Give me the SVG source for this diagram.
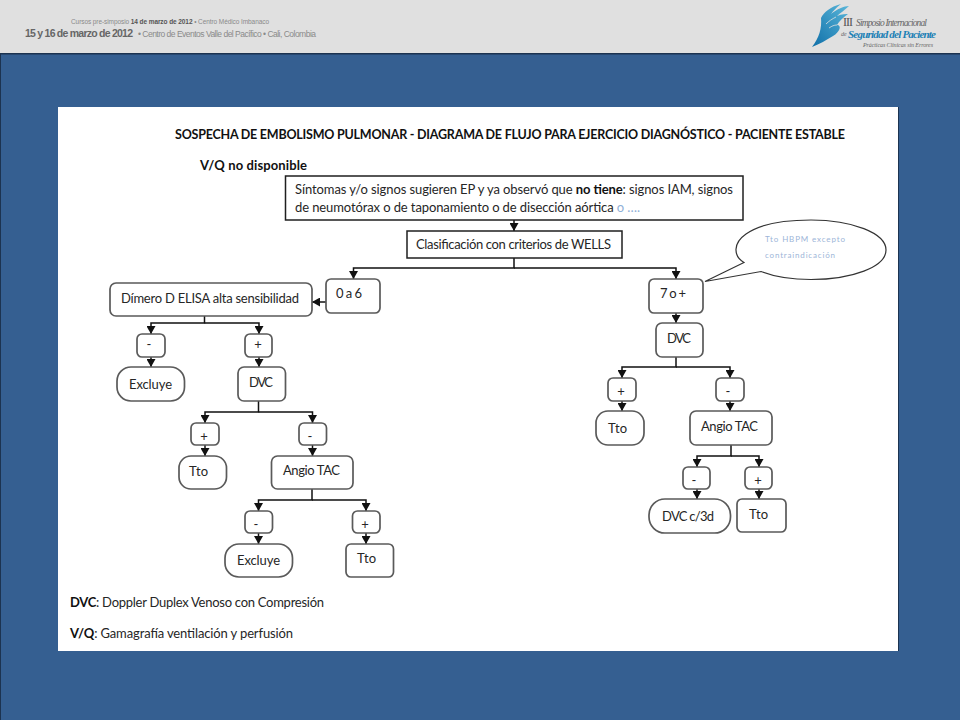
<svg xmlns="http://www.w3.org/2000/svg" width="960" height="720" viewBox="0 0 960 720">
<style>
.n{fill:#fff;stroke:#5a5a5a;stroke-width:1.7}
.s{fill:#fff;stroke:#1f1f1f;stroke-width:1.5}
.t{font-family:Lato,"Liberation Sans",sans-serif;font-size:13px;fill:#262626}
.b{font-weight:700;fill:#111}
.c{text-anchor:middle}
.h{font-family:"Liberation Sans",sans-serif;fill:#8a8a8a}
.l{font-family:"Liberation Serif",serif;font-style:italic;fill:#666}
.k{fill:#9db5d8;font-size:8px}
#connectors path{fill:none;stroke:#111;stroke-width:1.5}
</style>
<defs>
<marker id="a" markerUnits="userSpaceOnUse" markerWidth="9" markerHeight="9" refX="8" refY="4.500" orient="auto"><path d="M0 0L8 4.500L0 9Z" fill="#111"/></marker>
<linearGradient id="g" x1="0" y1="1" x2="1" y2="0"><stop offset="0" stop-color="#0f6fa8"/><stop offset="1" stop-color="#5bb7da"/></linearGradient>
</defs>
<rect width="960" height="720" fill="#355f91"/>
<rect width="960" height="53" fill="#e0e0e0"/>
<rect y="53" width="960" height="1.5" fill="#1c3350"/>
<rect x="0" y="54" width="1" height="666" fill="#1c3350"/>
<g id="header">
<text class="h" x="71" y="24" font-size="6.500" textLength="198">Cursos pre-simposio <tspan font-weight="700" fill="#555">14 de marzo de 2012</tspan> • Centro Médico Imbanaco</text>
<text x="25" y="37" class="h" font-size="10.500" font-weight="700" style="fill:#666" textLength="108">15 y 16 de marzo de 2012</text>
<text x="138" y="37" class="h" font-size="8.500" textLength="178">• Centro de Eventos Valle del Pacífico • Cali, Colombia</text>
</g>
<g id="logo">
<path d="M812 47C819 38 822 28 821 18C824 12 830 7 841 4C836 8 833 11 831 14C837 9 844 6 849 6C845 10 840 13 837 16C842 14 846 14 848 14C843 18 839 21 837 25C842 25 840 32 833 36C826 40 820 44 812 47Z" fill="url(#g)"/>
<path d="M826 24C829 21 832 19 836 17M829 28C832 26 834 25 837 25" fill="none" stroke="#e0e0e0" stroke-width="0.800"/>
<text x="843" y="25.500" font-family="Liberation Serif,serif" font-size="12" fill="#555" textLength="10">III</text>
<text x="856" y="26" class="l" font-size="9.500" textLength="71">Simposio Internacional</text>
<text x="841" y="36" class="l" font-size="6">de</text>
<text x="848" y="38" font-family="Liberation Serif,serif" font-style="italic" font-weight="700" font-size="11" fill="#1a7fb5" textLength="88">Seguridad del Paciente</text>
<text x="863" y="46.500" class="l" font-size="6" textLength="70">Prácticas Clínicas sin Errores</text>
</g>
<rect x="58" y="107" width="841" height="544" fill="#fff"/>
<rect x="898" y="107" width="1" height="544" fill="#1c3350"/>
<g id="titles">
<text class="t b" x="175" y="139" textLength="670" style="font-size:12.500px">SOSPECHA DE EMBOLISMO PULMONAR - DIAGRAMA DE FLUJO PARA EJERCICIO DIAGNÓSTICO - PACIENTE ESTABLE</text>
<text class="t b" x="200" y="170" textLength="107">V/Q  no disponible</text>
</g>
<g id="connectors">
<path d="M514 220V231" marker-end="url(#a)"/>
<path d="M514 258V268H353.500V279" marker-end="url(#a)"/>
<path d="M514 268H676V279" marker-end="url(#a)"/>
<path d="M326 302H312" marker-end="url(#a)"/>
<path d="M676 313V323" marker-end="url(#a)"/>
<path d="M676 357V367H622V378" marker-end="url(#a)"/>
<path d="M676 367H730V378" marker-end="url(#a)"/>
<path d="M622 401V411" marker-end="url(#a)"/>
<path d="M730 401V411" marker-end="url(#a)"/>
<path d="M731 445V456H697V467" marker-end="url(#a)"/>
<path d="M731 456H759V467" marker-end="url(#a)"/>
<path d="M697 489V499" marker-end="url(#a)"/>
<path d="M759 489V499" marker-end="url(#a)"/>
<path d="M204.500 316V323H151V334" marker-end="url(#a)"/>
<path d="M204.500 323H259V334" marker-end="url(#a)"/>
<path d="M151 357V367" marker-end="url(#a)"/>
<path d="M259 357V367" marker-end="url(#a)"/>
<path d="M258.500 401V412H205V423" marker-end="url(#a)"/>
<path d="M258.500 412H312.500V423" marker-end="url(#a)"/>
<path d="M205 445V456" marker-end="url(#a)"/>
<path d="M312.500 445V456" marker-end="url(#a)"/>
<path d="M312 489V500H258.500V511" marker-end="url(#a)"/>
<path d="M312 500H366V511" marker-end="url(#a)"/>
<path d="M258.500 533V544" marker-end="url(#a)"/>
<path d="M366 533V544" marker-end="url(#a)"/>
</g>
<g id="n-sintomas"><rect class="s" x="285.500" y="176" width="457.500" height="44"/>
<text class="t" x="295" y="194" textLength="438">Síntomas y/o signos sugieren EP y ya observó que <tspan class="b">no tiene</tspan>: signos IAM, signos</text>
<text class="t" x="295" y="212" textLength="345">de neumotórax o de taponamiento o de disección aórtica <tspan fill="#8fb0d8" style="fill:#8fb0d8">o ….</tspan></text></g>
<g id="n-wells"><rect class="s" x="407" y="231" width="215" height="27"/><text class="t" x="416" y="249" textLength="195">Clasificación con criterios de WELLS</text></g>
<g id="n-callout"><path d="M705 281.500L744 262.500C733 256 733 243 746 234C760 224 785 220 811 220C852 220 886 233 886 250C886 267 852 279.500 811 279.500C793 279.500 775 277 761 271.500Z" fill="#fff" stroke="#333" stroke-width="1.200"/>
<text class="t k" x="765" y="242" textLength="80">Tto HBPM  excepto</text>
<text class="t k" x="765" y="257.500" textLength="70">contraindicación</text></g>
<g id="n-06"><rect class="n" x="326" y="279" width="54" height="34" rx="5"/><text class="t" x="336" y="298" textLength="26">0 a 6</text></g>
<g id="n-dimero"><rect class="n" x="110" y="283" width="202" height="33" rx="6"/><text class="t" x="121" y="303" textLength="178">Dímero D ELISA alta sensibilidad</text></g>
<g id="n-7"><rect class="n" x="649" y="279" width="54" height="34" rx="5"/><text class="t" x="660" y="298" textLength="26">7 o +</text></g>
<g id="n-dvc-r"><rect class="n" x="656" y="323" width="47" height="34" rx="6"/><text class="t" x="667" y="343" textLength="24">DVC</text></g>
<g id="n-minus-l1"><rect class="n" x="137" y="334" width="28" height="23" rx="5"/><text class="t c" x="149" y="349">-</text></g>
<g id="n-plus-l1"><rect class="n" x="245" y="334" width="27" height="23" rx="5"/><text class="t c" x="258" y="349">+</text></g>
<g id="n-excluye-1"><rect class="n" x="117" y="367" width="67.500" height="34" rx="14"/><text class="t" x="129" y="389" textLength="43">Excluye</text></g>
<g id="n-dvc-l"><rect class="n" x="238" y="367" width="47.500" height="34" rx="6"/><text class="t" x="249" y="387" textLength="24">DVC</text></g>
<g id="n-plus-l2"><rect class="n" x="191" y="423" width="28" height="22" rx="5"/><text class="t c" x="204" y="441">+</text></g>
<g id="n-minus-l2"><rect class="n" x="299" y="423" width="27.500" height="22" rx="5"/><text class="t c" x="310" y="441">-</text></g>
<g id="n-tto-l1"><rect class="n" x="179" y="456" width="47.500" height="33" rx="12"/><text class="t" x="189" y="476" textLength="19">Tto</text></g>
<g id="n-angio-l"><rect class="n" x="271.500" y="456" width="81.500" height="33" rx="6"/><text class="t" x="283" y="475" textLength="57">Angio TAC</text></g>
<g id="n-minus-l3"><rect class="n" x="245" y="511" width="27.500" height="22" rx="5"/><text class="t c" x="256" y="529">-</text></g>
<g id="n-plus-l3"><rect class="n" x="352.500" y="511" width="27.500" height="22" rx="5"/><text class="t c" x="365" y="529">+</text></g>
<g id="n-excluye-2"><rect class="n" x="225" y="544" width="67.500" height="33" rx="14"/><text class="t" x="237" y="565" textLength="43">Excluye</text></g>
<g id="n-tto-l2"><rect class="n" x="346" y="544" width="47.500" height="33" rx="5"/><text class="t" x="357" y="563" textLength="19">Tto</text></g>
<g id="n-plus-r1"><rect class="n" x="608" y="378" width="28" height="23" rx="5"/><text class="t c" x="621" y="396">+</text></g>
<g id="n-minus-r1"><rect class="n" x="716" y="378" width="28" height="23" rx="5"/><text class="t c" x="728" y="396">-</text></g>
<g id="n-tto-r1"><rect class="n" x="596" y="411" width="48" height="34" rx="12"/><text class="t" x="608" y="433" textLength="19">Tto</text></g>
<g id="n-angio-r"><rect class="n" x="690" y="411" width="82" height="34" rx="6"/><text class="t" x="701" y="431" textLength="57">Angio TAC</text></g>
<g id="n-minus-r2"><rect class="n" x="683" y="467" width="27" height="22" rx="5"/><text class="t c" x="694" y="485">-</text></g>
<g id="n-plus-r2"><rect class="n" x="745" y="467" width="27" height="22" rx="5"/><text class="t c" x="758" y="485">+</text></g>
<g id="n-dvc3d"><rect class="n" x="649" y="499" width="81.500" height="34" rx="16"/><text class="t" x="662" y="521" textLength="52">DVC c/3d</text></g>
<g id="n-tto-r2"><rect class="n" x="737" y="499" width="49" height="33" rx="5"/><text class="t" x="749" y="519" textLength="19">Tto</text></g>
<g id="legend">
<text class="t" x="70" y="607" textLength="254"><tspan class="b">DVC</tspan>: Doppler Duplex Venoso con Compresión</text>
<text class="t" x="70" y="638" textLength="223"><tspan class="b">V/Q</tspan>: Gamagrafía ventilación y perfusión</text>
</g>
</svg>
